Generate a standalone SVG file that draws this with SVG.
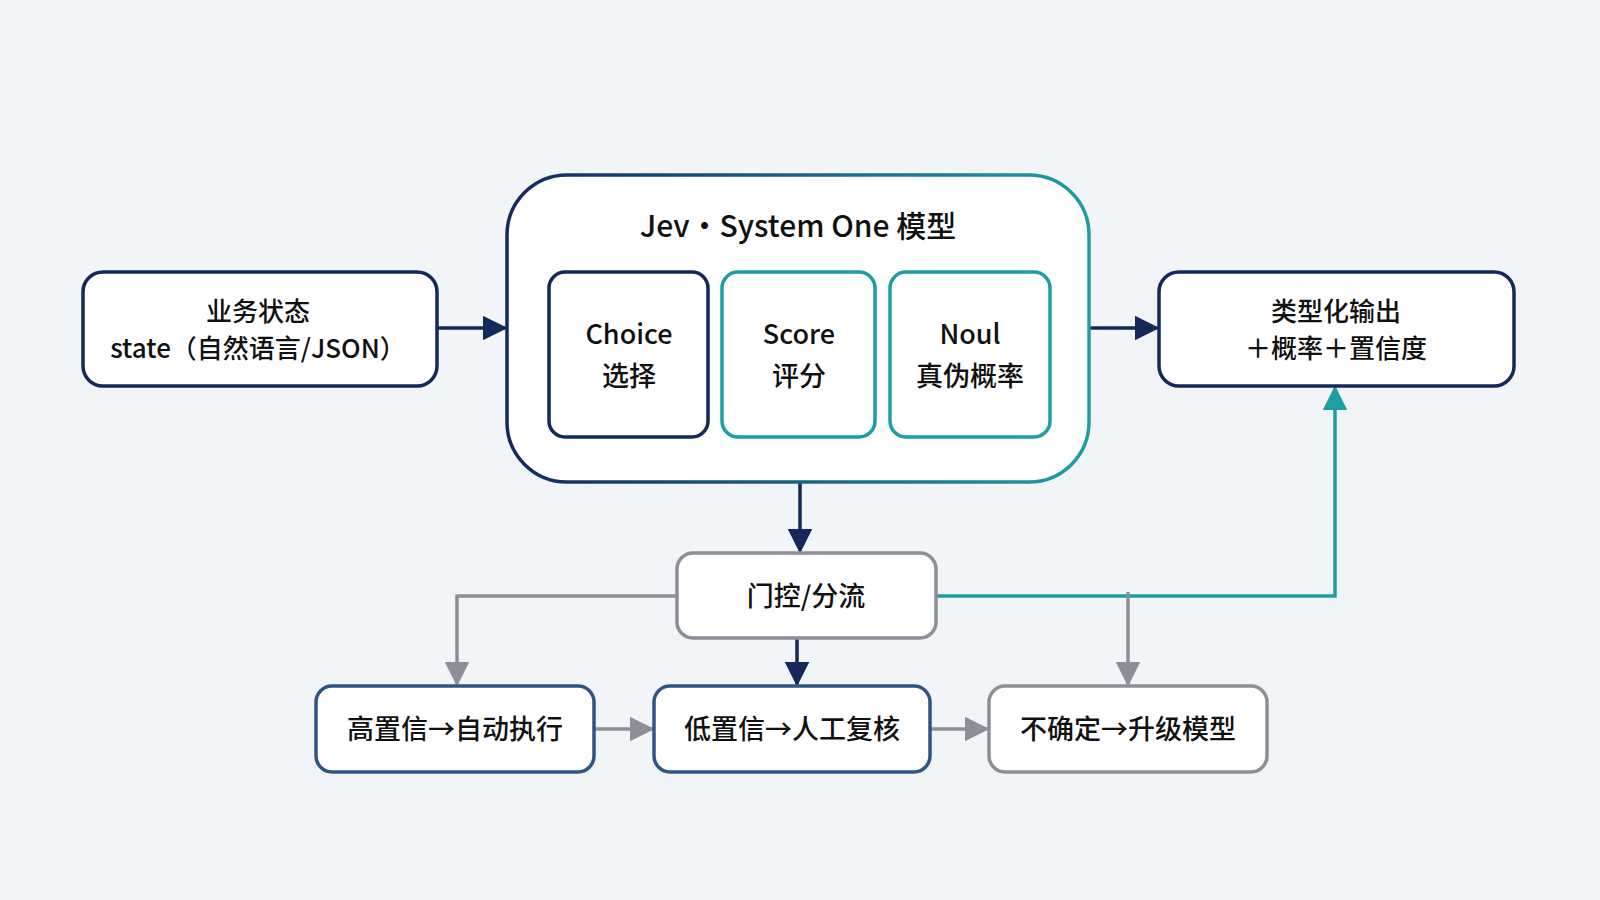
<svg xmlns="http://www.w3.org/2000/svg" width="1600" height="900" viewBox="0 0 1600 900">
<style>
text{font-family:"Noto Sans CJK SC","Noto Sans",sans-serif;fill:#111;text-anchor:middle;font-weight:500}
.n{fill:#fff;stroke-width:3.5}
.navy{stroke:#14295a}.teal{stroke:#1e9ea3}.gray{stroke:#8c9096}.blue{stroke:#2f5585}
.c{fill:none;stroke-width:3.5}
</style>
<defs>
<linearGradient id="g" x1="0" x2="1"><stop offset="0" stop-color="#14295a"/><stop offset="1" stop-color="#1e9ea3"/></linearGradient>
<marker id="an" viewBox="0 0 10 10" refX="9" refY="5" markerWidth="7" markerHeight="7" orient="auto"><path d="M0,0L10,5L0,10z" fill="#14295a"/></marker>
<marker id="ag" viewBox="0 0 10 10" refX="9" refY="5" markerWidth="7" markerHeight="7" orient="auto"><path d="M0,0L10,5L0,10z" fill="#8c9096"/></marker>
<marker id="at" viewBox="0 0 10 10" refX="9" refY="5" markerWidth="7" markerHeight="7" orient="auto"><path d="M0,0L10,5L0,10z" fill="#1e9ea3"/></marker>
</defs>
<rect width="1600" height="900" fill="#f1f5f8"/>
<g id="connectors">
<path class="c navy" d="M437,328H505" marker-end="url(#an)"/>
<path class="c navy" d="M1089,328H1157" marker-end="url(#an)"/>
<path class="c navy" d="M800,482V551" marker-end="url(#an)"/>
<path class="c gray" d="M677,596H457V684" marker-end="url(#ag)"/>
<path class="c navy" d="M797,638V684" marker-end="url(#an)"/>
<path class="c teal" d="M936,596H1335V388" marker-end="url(#at)"/>
<path class="c gray" d="M1128,592V684" marker-end="url(#ag)"/>
<path class="c gray" d="M594,729H652" marker-end="url(#ag)"/>
<path class="c gray" d="M930,729H987" marker-end="url(#ag)"/>
</g>
<g id="input"><rect class="n navy" x="83" y="272" width="354" height="114" rx="20"/>
<text x="258" y="321" font-size="26">业务状态</text><text x="258" y="358" font-size="26">state（自然语言/JSON）</text></g>
<g id="model"><rect x="507" y="175" width="582" height="307" rx="60" fill="#fff" stroke="url(#g)" stroke-width="3.5"/>
<text x="798" y="237" font-size="30" font-weight="700">Jev·System One 模型</text></g>
<g id="choice"><rect class="n navy" x="549" y="272" width="159" height="165" rx="16"/>
<text x="629" y="344" font-size="27">Choice</text><text x="629" y="386" font-size="27">选择</text></g>
<g id="score"><rect class="n teal" x="722" y="272" width="153" height="165" rx="16"/>
<text x="799" y="344" font-size="27">Score</text><text x="799" y="386" font-size="27">评分</text></g>
<g id="noul"><rect class="n teal" x="890" y="272" width="160" height="165" rx="16"/>
<text x="970" y="344" font-size="27">Noul</text><text x="970" y="386" font-size="27">真伪概率</text></g>
<g id="output"><rect class="n navy" x="1159" y="272" width="355" height="114" rx="20"/>
<text x="1336" y="321" font-size="26">类型化输出</text><text x="1336" y="358" font-size="26">＋概率＋置信度</text></g>
<g id="gate"><rect class="n gray" x="677" y="553" width="259" height="85" rx="16"/>
<text x="806" y="606" font-size="27">门控/分流</text></g>
<g id="high"><rect class="n blue" x="316" y="686" width="278" height="86" rx="16"/>
<text x="455" y="739" font-size="27">高置信→自动执行</text></g>
<g id="low"><rect class="n blue" x="654" y="686" width="276" height="86" rx="16"/>
<text x="792" y="739" font-size="27">低置信→人工复核</text></g>
<g id="unsure"><rect class="n gray" x="989" y="686" width="278" height="86" rx="16"/>
<text x="1128" y="739" font-size="27">不确定→升级模型</text></g>
</svg>
